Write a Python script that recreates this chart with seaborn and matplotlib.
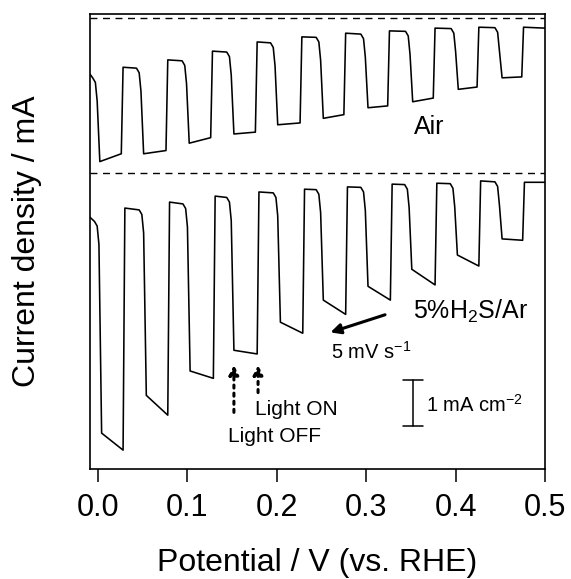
import matplotlib
matplotlib.use('Agg')
import matplotlib.pyplot as plt
import pandas as pd
import seaborn as sns

# light switching potentials (V vs. RHE) and plateau currents (mA cm-2)
air_fall = [0.002, 0.051, 0.102, 0.152, 0.201, 0.252, 0.302, 0.352, 0.403, 0.452]
air_rise = [0.026, 0.076, 0.126, 0.176, 0.226, 0.275, 0.324, 0.375, 0.424, 0.474]
air_high_start = [-1.22, -1.07, -0.91, -0.72, -0.52, -0.41, -0.33, -0.28, -0.22, -0.20, -0.20]
air_high_end = [-1.30, -1.09, -0.93, -0.74, -0.54, -0.42, -0.35, -0.29, -0.23, -0.21, -0.22]
air_low_start = [-3.12, -2.95, -2.72, -2.52, -2.32, -2.18, -1.95, -1.82, -1.55, -1.30]
air_low_end = [-2.95, -2.88, -2.60, -2.48, -2.28, -2.10, -1.91, -1.74, -1.50, -1.28]

h2s_fall = [0.004, 0.054, 0.103, 0.152, 0.204, 0.252, 0.302, 0.351, 0.402, 0.452]
h2s_rise = [0.028, 0.078, 0.129, 0.178, 0.229, 0.277, 0.327, 0.377, 0.426, 0.475]
h2s_high_start = [-0.96, -0.76, -0.63, -0.50, -0.41, -0.35, -0.30, -0.24, -0.22, -0.17, -0.20]
h2s_high_end = [-1.05, -0.80, -0.67, -0.53, -0.43, -0.36, -0.31, -0.25, -0.23, -0.19, -0.20]
h2s_low_start = [-5.65, -4.83, -4.30, -3.85, -3.24, -2.76, -2.46, -2.09, -1.78, -1.43]
h2s_low_end = [-6.02, -5.26, -4.46, -3.93, -3.48, -3.07, -2.76, -2.43, -2.02, -1.46]

h2s_offset = -3.37
x_ticks = [0.0, 0.1, 0.2, 0.3, 0.4, 0.5]


def trace_vertices(fall, rise, high_start, high_end, low_start, low_end, v0=-0.009, v1=0.5):
    """Corner points of a chopped-light trace, left to right."""
    v, j = [v0], [high_start[0]]
    for i in range(len(fall)):
        v += [fall[i] - 0.008, fall[i] - 0.005, fall[i] - 0.003, fall[i], rise[i], rise[i] + 0.002]
        j += [high_end[i], high_end[i] - 0.1, high_end[i] - 0.5, low_start[i], low_end[i], high_start[i + 1]]
    v.append(v1)
    j.append(high_end[-1])
    return v, j


air_v, air_j = trace_vertices(air_fall, air_rise, air_high_start, air_high_end, air_low_start, air_low_end)
h2s_v, h2s_j = trace_vertices(h2s_fall, h2s_rise, h2s_high_start, h2s_high_end, h2s_low_start, h2s_low_end)

df = pd.concat([
    pd.DataFrame({'v': air_v, 'j': air_j, 'gas': 'Air'}),
    pd.DataFrame({'v': h2s_v, 'j': [x + h2s_offset for x in h2s_j], 'gas': 'H2S'}),
])

sns.set_theme(style='ticks')
plt.rcParams['font.family'] = ['Liberation Sans', 'DejaVu Sans']
plt.rcParams['mathtext.fontset'] = 'custom'
plt.rcParams['mathtext.rm'] = 'Liberation Sans'
plt.rcParams['mathtext.it'] = 'Liberation Sans:italic'
plt.rcParams['text.color'] = 'black'
plt.rcParams['axes.labelcolor'] = 'black'
plt.rcParams['xtick.color'] = 'black'

fig = plt.figure(figsize=(5.71, 5.79), dpi=100)
ax = fig.add_axes([90 / 571, 1 - 469 / 579, 455 / 571, 455 / 579])

sns.lineplot(data=df, x='v', y='j', hue='gas', palette=['black', 'black'], sort=False,
             estimator=None, legend=False, linewidth=1.15, ax=ax)

for y0 in [0, h2s_offset]:
    ax.axhline(y0, color='black', lw=1.0, ls=(0, (5, 4)))

ax.set_xlim(-0.009, 0.5)
ax.set_ylim(-9.80, 0.087)
ax.set_xticks(x_ticks)
ax.set_xticklabels([f'{t:.1f}' for t in x_ticks])
ax.set_yticks([])
ax.set_xlabel('')
ax.set_ylabel('')
ax.tick_params(axis='x', direction='out', length=9.5, width=1.1, labelsize=22, pad=8,
               colors='black', labelcolor='black')
for s in ax.spines.values():
    s.set_visible(True)
    s.set_color('black')
    s.set_linewidth(1.2)

# annotations
ax.text(0.371, -2.36, 'Air', fontsize=18, ha='center', va='center')
ax.text(0.352, -6.37, '5%H$_\\mathrm{2}$S/Ar', fontsize=18, ha='left', va='center')
ax.annotate('', xy=(0.257, -6.85), xytext=(0.324, -6.43),
            arrowprops=dict(arrowstyle='-|>', lw=2.2, color='black', mutation_scale=15))
ax.text(0.306, -7.25, '5 mV s$^{\\mathrm{-1}}$', fontsize=14.5, ha='center', va='center')

# scale bar
ax.plot([0.352, 0.352], [-7.87, -8.87], color='black', lw=1.1)
ax.plot([0.341, 0.363], [-7.87, -7.87], color='black', lw=1.1)
ax.plot([0.341, 0.363], [-8.87, -8.87], color='black', lw=1.1)
ax.text(0.367, -8.40, '1 mA cm$^{\\mathrm{-2}}$', fontsize=14.5, ha='left', va='center')

# light on/off markers
ax.annotate('', xy=(0.152, -7.48), xytext=(0.152, -8.63),
            arrowprops=dict(arrowstyle='-|>', lw=2.2, ls=':', color='black', mutation_scale=14))
ax.annotate('', xy=(0.179, -7.48), xytext=(0.179, -8.20),
            arrowprops=dict(arrowstyle='-|>', lw=2.2, ls=':', color='black', mutation_scale=14))
ax.text(0.176, -8.50, 'Light ON', fontsize=15, ha='left', va='center')
ax.text(0.145, -9.10, 'Light OFF', fontsize=15, ha='left', va='center')

fig.text(27 / 571, 1 - 241 / 579, 'Current density / mA', fontsize=23, rotation=90,
         ha='center', va='center')
fig.text(317 / 571, 1 - 571 / 579, 'Potential / V (vs. RHE)', fontsize=23,
         ha='center', va='baseline')

fig.savefig('out.png', dpi=100)
